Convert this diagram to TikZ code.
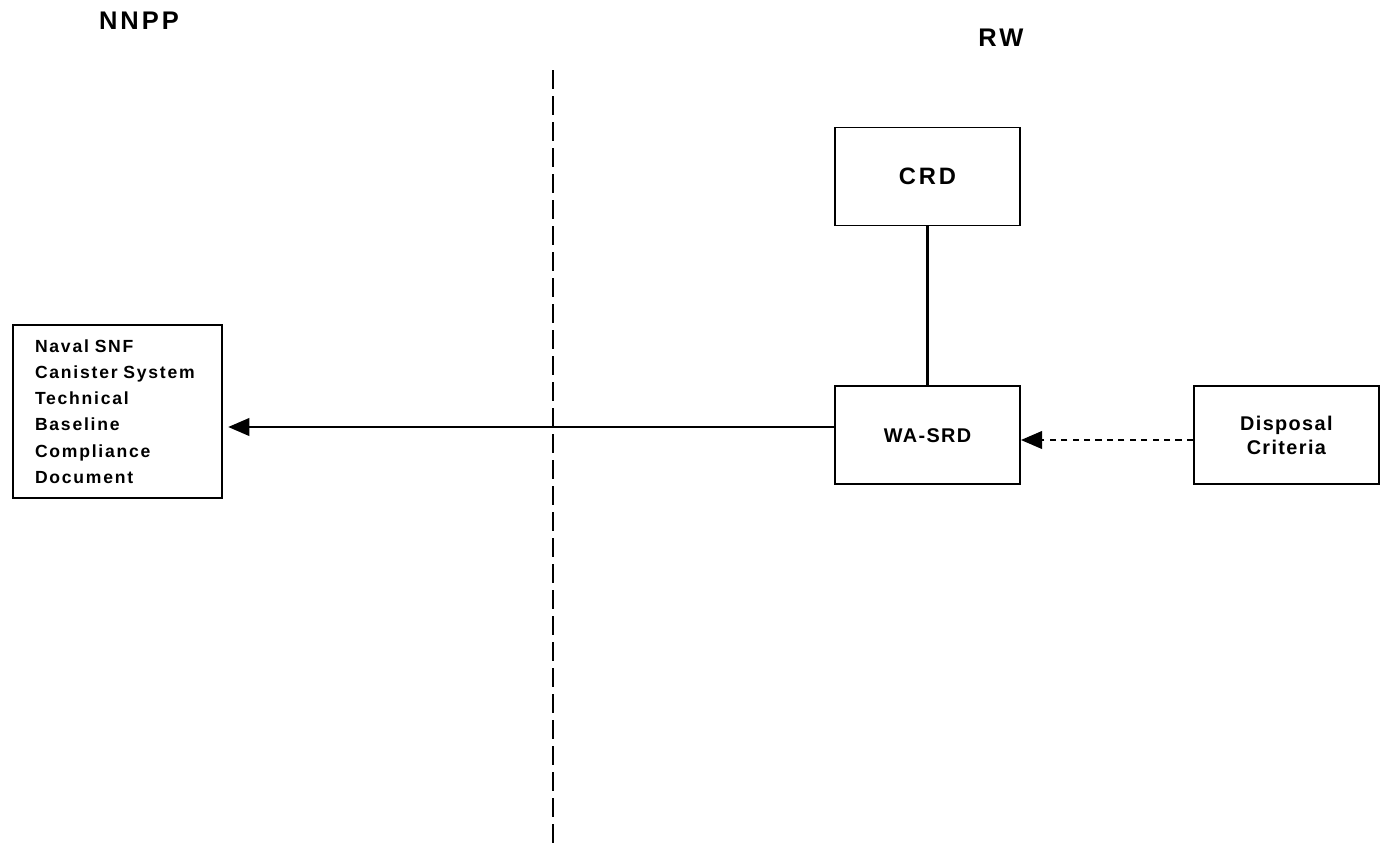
\documentclass[tikz,border=0pt]{standalone}
\usepackage{fontspec}
\setmainfont{Liberation Sans}
\newfontfamily\navalfont{Liberation Sans}[LetterSpace=10, WordSpace=1.5]
\usetikzlibrary{arrows.meta, positioning}

\begin{document}
\begin{tikzpicture}[x=0.02cm, y=-0.02cm, auto,
  box/.style={rectangle, draw=black, line width=1.1pt, minimum width=3.7cm, minimum height=1.96cm, align=center,
    font=\bfseries\fontsize{11.3}{13.7}\selectfont\addfontfeature{LetterSpace=7}},
  side/.style={font=\bfseries\fontsize{14.5}{16}\selectfont\addfontfeature{LetterSpace=12}},
  link/.style={line width=1.3pt},
  arrow/.style={line width=1.2pt, -{Triangle[length=12pt, width=10pt]}},
  divider/.style={line width=1.6pt, dash pattern=on 10.8pt off 4pt}
]
\useasboundingbox (0,0) rectangle (1387,846);

\node (nnpp) [side] at (139,21) {NNPP};
\node (rw) [side] at (1001,38) {RW};

\node (crd) [box, font=\bfseries\fontsize{13.5}{14}\selectfont\addfontfeature{LetterSpace=12}] at (927.5,176.5) {CRD};
\node (wasrd) [box, below=3.18cm of crd] {WA-SRD};
\node (disposal) [box, right=3.44cm of wasrd] {Disposal\\Criteria};
\node (naval) [box, align=left, minimum width=4.18cm, minimum height=3.46cm, text width=3.3cm, inner xsep=0.44cm,
  font=\navalfont\bfseries\fontsize{10}{14.9}\selectfont] at (117.5,411.5)
  {Naval SNF\\Canister System\\Technical\\Baseline\\Compliance\\Document};

% border between NNPP and RW
\coordinate (divtop) at (553,70);
\coordinate (divbot) at (553,846);
\draw [divider] (divtop) -- (divbot);

\draw [link] (crd) -- (wasrd);
\draw [arrow, shorten >=3pt] (wasrd.west |- 0,427) -- (naval.east |- 0,427);
\draw [arrow, dash pattern=on 3.5pt off 3pt] (disposal.west |- 0,440) -- (wasrd.east |- 0,440);

\end{tikzpicture}
\end{document}
